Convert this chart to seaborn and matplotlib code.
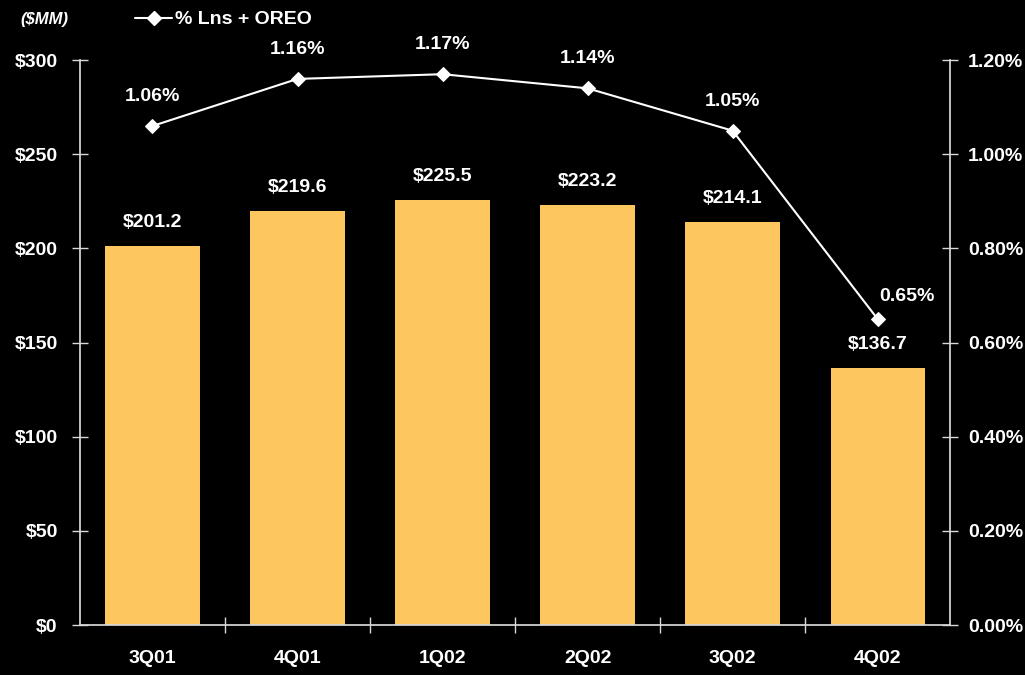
import matplotlib
matplotlib.use("Agg")
import matplotlib.pyplot as plt
import seaborn as sns
import pandas as pd
from matplotlib.ticker import FuncFormatter, MultipleLocator
from matplotlib.lines import Line2D

quarters = ["3Q01", "4Q01", "1Q02", "2Q02", "3Q02", "4Q02"]
npa_mm = [201.2, 219.6, 225.5, 223.2, 214.1, 136.7]
pct_lns_oreo = [1.06, 1.16, 1.17, 1.14, 1.05, 0.65]

sns.set_theme(style="dark")
plt.rcParams["font.family"] = ["Liberation Sans", "DejaVu Sans"]
plt.rcParams["font.weight"] = "bold"

BG = "black"
FG = "white"
AXC = "#d8d8d8"
BAR = "#FDC65E"
FS = 14

df = pd.DataFrame({"q": quarters, "v": npa_mm, "p": pct_lns_oreo})

fig = plt.figure(figsize=(10.25, 6.75), dpi=100, facecolor=BG)
ax = fig.add_axes([0.078, 0.074, 0.849, 0.837])
ax.set_facecolor(BG)

sns.barplot(data=df, x="q", y="v", color=BAR, width=0.65, saturation=1,
            edgecolor="none", ax=ax)
ax.set_ylim(0, 300)
ax.set_xlim(-0.5, len(quarters) - 0.5)
ax.yaxis.set_major_locator(MultipleLocator(50))
ax.yaxis.set_major_formatter(FuncFormatter(lambda v, _: f"${v:.0f}"))
ax.set_xlabel("")
ax.set_ylabel("")
ax.grid(False)

for i, v in enumerate(npa_mm):
    ax.text(i, v + 8, f"${v:.1f}", ha="center", va="bottom", color=FG,
            fontsize=FS, fontweight="bold")

ax2 = ax.twinx()
ax2.set_facecolor("none")
sns.lineplot(x=list(range(len(quarters))), y=pct_lns_oreo, ax=ax2, color=FG,
             marker="D", markersize=7, markerfacecolor=FG, markeredgecolor=FG,
             linewidth=1.5)
ax2.set_ylim(0, 1.2)
ax2.yaxis.set_major_locator(MultipleLocator(0.2))
ax2.yaxis.set_major_formatter(FuncFormatter(lambda v, _: f"{v:.2f}%"))
ax2.set_xlim(-0.5, len(quarters) - 0.5)
ax2.grid(False)

for i, p in enumerate(pct_lns_oreo):
    if i == len(pct_lns_oreo) - 1:
        ax2.text(i + 0.2, p + 0.03, f"{p:.2f}%", ha="center", va="bottom",
                 color=FG, fontsize=FS, fontweight="bold")
    else:
        ax2.text(i, p + 0.045, f"{p:.2f}%", ha="center", va="bottom",
                 color=FG, fontsize=FS, fontweight="bold")

# spines and ticks
for a in (ax, ax2):
    for s in a.spines.values():
        s.set_visible(False)
ax.spines["left"].set_visible(True)
ax.spines["left"].set_color(AXC)
ax.spines["bottom"].set_visible(True)
ax.spines["bottom"].set_color(AXC)
ax2.spines["right"].set_visible(True)
ax2.spines["right"].set_color(AXC)

ax.tick_params(axis="y", direction="inout", length=12, width=1, color=AXC,
               labelcolor=FG, labelsize=FS, pad=10, left=True)
ax2.tick_params(axis="y", direction="inout", length=12, width=1, color=AXC,
                labelcolor=FG, labelsize=FS, pad=7, right=True)
ax.tick_params(axis="x", length=0, labelcolor=FG, labelsize=FS, pad=18)
ax.set_xticks(range(len(quarters)))
ax.set_xticklabels(quarters, fontweight="bold")
for lab in ax.get_yticklabels() + ax2.get_yticklabels():
    lab.set_fontweight("bold")

# boundary ticks along the baseline
ax.set_xticks([i + 0.5 for i in range(len(quarters) - 1)], minor=True)
ax.tick_params(axis="x", which="minor", direction="inout", length=12,
               width=1, color=AXC, bottom=True)

fig.text(0.02, 0.971, "($MM)", color=FG, fontsize=12, fontstyle="italic",
         fontweight="bold", va="center", ha="left")
handle = Line2D([], [], color=FG, marker="D", markersize=7, linewidth=1.5)
fig.legend([handle], ["% Lns + OREO"], loc="center left",
           bbox_to_anchor=(0.115, 0.971), frameon=False,
           labelcolor=FG, handlelength=1.9, handletextpad=0.15,
           prop={"weight": "bold", "size": 14})

fig.savefig("out.png", dpi=100, facecolor=BG)
